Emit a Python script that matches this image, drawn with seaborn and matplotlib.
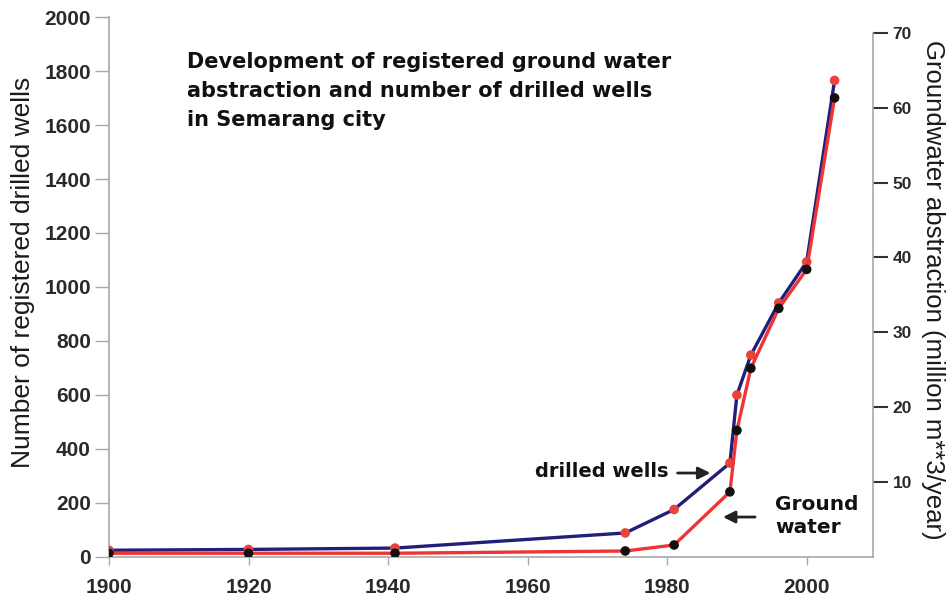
"""
plot.py
-------
Development of registered ground water abstraction and number of
drilled wells in Semarang city (twin y-axes line chart).
"""

import matplotlib
matplotlib.use("Agg")
import matplotlib.pyplot as plt
import pandas as pd
import seaborn as sns

# ---- data ----
years = [1900, 1920, 1941, 1974, 1981, 1989, 1990, 1992, 1996, 2000, 2004]
drilled_wells = [25, 28, 33, 89, 176, 348, 600, 748, 941, 1093, 1765]
groundwater = [0.5, 0.5, 0.5, 0.8, 1.6, 8.7, 16.9, 25.2, 33.2, 38.4, 61.3]

x_ticks = [1900, 1920, 1940, 1960, 1980, 2000]
left_ticks = list(range(0, 2001, 200))
right_ticks = [10, 20, 30, 40, 50, 60, 70]

df = pd.DataFrame({"year": years, "wells": drilled_wells, "gw": groundwater})

# ---- styling ----
sns.set_style("white")
plt.rcParams["font.family"] = ["Liberation Sans", "DejaVu Sans"]
NAVY = "#221f78"
RED = "#ee3535"
DOT_RED = "#e8433c"
GREY = "#a8a8a8"
TITLE_FONT = ["DejaVu Sans"]

fig = plt.figure(figsize=(9.5, 6.03), dpi=100)
ax = fig.add_axes([0.1147, 0.0763, 0.8042, 0.8955])
ax2 = ax.twinx()

# drilled wells (left axis): navy line with red dots
sns.lineplot(data=df, x="year", y="wells", color=NAVY, lw=2.4, ax=ax)
# groundwater (right axis): red line with black dots
sns.lineplot(data=df, x="year", y="gw", color=RED, lw=2.4, ax=ax2)
sns.scatterplot(data=df, x="year", y="wells", color=DOT_RED, s=48,
                edgecolor="none", ax=ax, zorder=5)
sns.scatterplot(data=df, x="year", y="gw", color="#111111", s=48,
                edgecolor="none", ax=ax2, zorder=5)

ax.set_xlim(1900, 2009.5)
ax.set_ylim(0, 2000)
ax2.set_ylim(0, 72.1)

ax.set_xticks(x_ticks)
ax.set_yticks(left_ticks)
ax2.set_yticks(right_ticks)

for lab in ax.get_xticklabels() + ax.get_yticklabels():
    lab.set_fontweight("bold")
for lab in ax2.get_yticklabels():
    lab.set_fontweight("bold")

ax.tick_params(axis="y", length=10, width=1, color=GREY, labelsize=15,
               labelcolor="#2a2a2a", pad=3, left=True)
ax.tick_params(axis="x", length=6, width=1, color=GREY, labelsize=15,
               labelcolor="#2a2a2a", pad=9, bottom=True)
ax2.tick_params(axis="y", length=11, width=1.5, color="#333333",
                labelsize=12.5, labelcolor="#2a2a2a", pad=3, right=True)

for a in (ax, ax2):
    a.spines["top"].set_visible(False)
    for side in ("left", "right", "bottom"):
        a.spines[side].set_color(GREY)
        a.spines[side].set_linewidth(1.2)
ax.spines["right"].set_visible(False)
ax2.spines["left"].set_visible(False)
ax2.spines["bottom"].set_visible(False)
ax2.spines["right"].set_bounds(0, 70)

ax.set_xlabel("")
ax.set_ylabel("Number of registered drilled wells", fontsize=19,
              color="#1a1a1a")
ax.yaxis.set_label_coords(-0.097, 0.528)
ax2.set_ylabel("Groundwater abstraction (million m**3/year)", fontsize=18.5,
               color="#1a1a1a", rotation=270, va="center")
ax2.yaxis.set_label_coords(1.078, 0.494)

# title inside the plot
ax.text(0.102, 0.935,
        "Development of registered ground water\n"
        "abstraction and number of drilled wells\n"
        "in Semarang city",
        transform=ax.transAxes, ha="left", va="top", fontsize=15,
        fontweight="bold", family=TITLE_FONT, color="#111111",
        linespacing=1.55)

# annotations with arrows
ax.text(1961.1, 318, "drilled wells", ha="left", va="center", fontsize=14,
        fontweight="bold", family=TITLE_FONT, color="#111111")
ax.annotate("", xy=(1986.6, 311), xytext=(1981.1, 311),
            arrowprops=dict(arrowstyle="-|>", color="#222222", lw=2,
                            mutation_scale=18))
ax.text(1995.5, 152, "Ground\nwater", ha="left", va="center", fontsize=14.5,
        fontweight="bold", family=TITLE_FONT, color="#111111",
        linespacing=1.3)
ax.annotate("", xy=(1987.6, 148), xytext=(1993.0, 148),
            arrowprops=dict(arrowstyle="-|>", color="#222222", lw=2,
                            mutation_scale=18))

fig.savefig("out.png", dpi=100, facecolor="white")
plt.close(fig)
